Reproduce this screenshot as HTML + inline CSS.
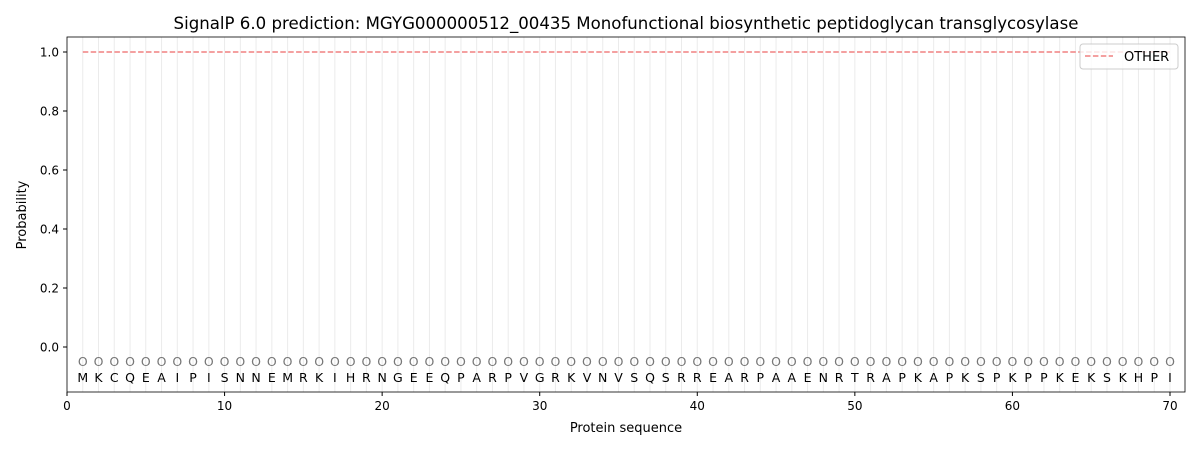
<!DOCTYPE html>
<html><head><meta charset="utf-8"><style>
body{margin:0;background:#fff;}
svg text{font-family:"DejaVu Sans","Liberation Sans",sans-serif;}
</style></head><body>
<svg id="s" width="1200" height="450" viewBox="0 0 1200 450" xmlns="http://www.w3.org/2000/svg">
<rect width="1200" height="450" fill="#fff"/>
<g id="grid"></g>
<line x1="82.8" y1="52" x2="1170" y2="52" stroke="#f08080" stroke-width="1.5" stroke-dasharray="5.5,2.4"/>
<g id="lab" font-size="12.5" text-anchor="middle"></g>
<rect x="67" y="37" width="1118" height="355" fill="none" stroke="#000" stroke-width="0.8"/>
<g id="ax" font-size="12" text-anchor="middle"></g>
<text x="626" y="29" font-size="16.6" text-anchor="middle">SignalP 6.0 prediction: MGYG000000512_00435 Monofunctional biosynthetic peptidoglycan transglycosylase</text>
<text x="626" y="432" font-size="13" text-anchor="middle">Protein sequence</text>
<text transform="translate(26,215) rotate(-90)" font-size="13" text-anchor="middle">Probability</text>
<rect x="1080" y="44" width="98" height="25" rx="3" fill="#fff" fill-opacity="0.8" stroke="#ccc"/>
<line x1="1085" y1="56" x2="1113" y2="56" stroke="#f08080" stroke-width="1.5" stroke-dasharray="5.5,2.4"/>
<text x="1124" y="61" font-size="13">OTHER</text>
</svg>
<script>
var seq="MKCQEAIPISNNEMRKIHRNGEEQPARPVGRKVNVSQSRREARPAAENRTRAPKAPKSPKPPKEKSKHPI";
var ns="http://www.w3.org/2000/svg";
function X(v){return 67+v*15.757;}
function Y(p){return 347-p*295;}
var g=document.getElementById("grid"),l=document.getElementById("lab"),a=document.getElementById("ax");
function el(p,t,at,txt){var e=document.createElementNS(ns,t);for(var k in at)e.setAttribute(k,at[k]);if(txt!==undefined)e.textContent=txt;p.appendChild(e);}
for(var i=1;i<=70;i++){var x=X(i);
el(g,"line",{x1:x,y1:37,x2:x,y2:392,stroke:"#ebebeb","stroke-width":1});
el(l,"text",{x:x,y:366,fill:"#777"},"O");
el(l,"text",{x:x,y:382,fill:"#000"},seq[i-1]);}
for(var v=0;v<=70;v+=10){var x=X(v);el(a,"line",{x1:x,y1:392,x2:x,y2:396,stroke:"#000"});el(a,"text",{x:x,y:410},String(v));}
for(var p=0;p<=5;p++){var y=Y(p*0.2);el(a,"line",{x1:63,y1:y,x2:67,y2:y,stroke:"#000"});el(a,"text",{x:59,y:y+4.5,"text-anchor":"end"},(p*0.2).toFixed(1));}
</script>
</body></html>
